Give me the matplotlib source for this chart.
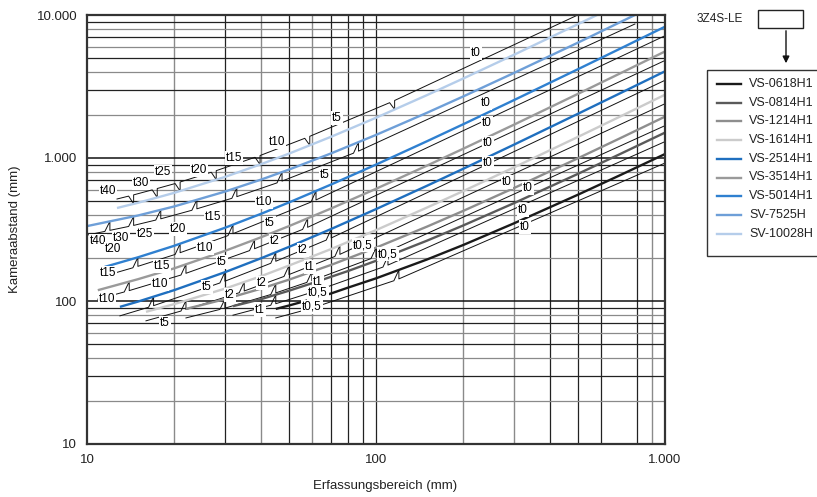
import matplotlib
matplotlib.use('Agg')
import matplotlib.pyplot as plt
import numpy as np
from matplotlib.patches import Rectangle
from matplotlib.ticker import FixedLocator, FixedFormatter, NullLocator

plt.rcParams['font.family'] = ['Liberation Sans', 'DejaVu Sans']

# ---------------- data ----------------
lens_names = ['VS-0618H1', 'VS-0814H1', 'VS-1214H1', 'VS-1614H1', 'VS-2514H1',
              'VS-3514H1', 'VS-5014H1', 'SV-7525H', 'SV-10028H']
lens_colors = ['#1a1a1a', '#5a5a5a', '#8e8e8e', '#cbcbcb', '#1f6fbf',
               '#9a9a9a', '#2f80d0', '#6e9fd8', '#b5cdea']

x_0618 = [45, 50, 60, 70, 80, 100, 150, 200, 300, 500, 700, 1000]
y_0618 = [88, 93, 103, 113, 124, 144, 195, 246, 349, 554, 759, 1066]
x_0814 = [32, 40, 50, 60, 80, 100, 150, 200, 300, 500, 700, 1000]
y_0814 = [92, 103, 118, 133, 162, 191, 264, 337, 483, 775, 1067, 1505]
x_1214 = [22, 30, 40, 50, 70, 100, 150, 200, 300, 500, 700, 1000]
y_1214 = [88, 103, 122, 141, 179, 236, 331, 426, 616, 996, 1376, 1946]
x_1614 = [16, 20, 30, 40, 50, 70, 100, 150, 200, 300, 500, 700, 1000]
y_1614 = [84, 95, 122, 149, 177, 231, 313, 450, 586, 859, 1405, 1951, 2770]
x_2514 = [13, 15, 20, 30, 40, 50, 70, 100, 150, 200, 300, 500, 700, 1000]
y_2514 = [91, 99, 119, 159, 199, 239, 319, 439, 639, 839, 1239, 2039, 2839, 4039]
x_3514 = [10.9, 15, 20, 30, 40, 50, 70, 100, 150, 200, 300, 500, 700, 1000]
y_3514 = [119, 142, 169, 224, 279, 334, 444, 609, 884, 1159, 1709, 2809, 3909, 5559]
x_5014 = [11.5, 15, 20, 30, 40, 50, 70, 100, 150, 200, 300, 500, 700, 1000]
y_5014 = [173, 202, 243, 325, 407, 489, 653, 899, 1309, 1719, 2539, 4179, 5819, 8279]
x_7525 = [10, 15, 20, 30, 40, 50, 70, 100, 150, 200, 300, 500, 787]
y_7525 = [334, 396, 458, 582, 706, 830, 1078, 1450, 2070, 2690, 3930, 6410, 10000]
x_10028 = [12.7, 15, 20, 30, 40, 50, 70, 100, 150, 200, 300, 582]
y_10028 = [447, 486, 570, 737, 905, 1073, 1409, 1912, 2751, 3590, 5268, 10000]

series_x = [x_0618, x_0814, x_1214, x_1614, x_2514, x_3514, x_5014, x_7525, x_10028]
series_y = [y_0618, y_0814, y_1214, y_1614, y_2514, y_3514, y_5014, y_7525, y_10028]

# extension-tube range boundaries (field of view, mm) for each lens
tube_bounds = [
    [60, 120],
    [45, 62, 110],
    [30, 45, 60, 100],
    [22, 35, 50, 75],
    [17, 30, 45, 70],
    [14, 22, 38, 58],
    [15, 21, 32, 62],
    [12, 14.5, 18, 24, 33, 47.3, 87],
    [14.5, 17.5, 21, 28, 39.7, 59, 116],
]
bracket_side = [-1, -1, -1, -1, -1, -1, -1, -1, 1]

# extension tube labels (text, x, y in data units)
tube_text = ['t40', 't30', 't25', 't20', 't15', 't10', 't5', 't0',
             't40', 't30', 't25', 't20', 't15', 't10', 't5', 't0',
             't20', 't15', 't10', 't5', 't0',
             't15', 't10', 't5', 't2', 't0',
             't10', 't5', 't2', 't0,5', 't0',
             't5', 't2', 't1', 't2', 't1', 't1', 't0,5', 't0,5', 't0,5',
             't0', 't0', 't0', 't0']
tube_x = [11.8, 15.4, 18.3, 24.4, 32.3, 45.4, 73.3, 222,
          10.9, 13.1, 15.9, 20.6, 27.3, 41.0, 66.6, 240,
          12.3, 18.2, 25.6, 43.0, 242,
          11.8, 17.9, 29.3, 44.7, 244,
          11.7, 26.0, 40.3, 90.2, 244,
          18.6, 31.2, 39.7, 55.9, 59.1, 63.0, 63.0, 60.0, 110,
          284, 336, 323, 328]
tube_y = [588, 668, 798, 824, 1000, 1294, 1905, 5400,
          263, 276, 294, 319, 387, 492, 761, 2426,
          231, 176, 235, 351, 1758,
          157, 131.5, 187, 263, 1273,
          103, 125, 134, 246, 922,
          70.2, 110, 86.5, 227, 173, 136, 114, 90.8, 213,
          679, 617, 433, 329]

x_ticks = [10, 100, 1000]
x_ticklabels = ['10', '100', '1.000']
y_ticks = [10, 100, 1000, 10000]
y_ticklabels = ['10', '100', '1.000', '10.000']

# ---------------- figure ----------------
W, H = 817, 497
fig = plt.figure(figsize=(W / 100, H / 100), dpi=100)
ax = fig.add_axes([87 / W, 1 - 444 / H, 578 / W, 429 / H])
ax.set_xscale('log')
ax.set_yscale('log')
ax.set_xlim(10, 1000)
ax.set_ylim(10, 10000)

# grid
xgrid_dark = [30, 50, 70, 80, 90, 100, 400, 500, 600, 800]
xgrid_gray = [20, 40, 60, 200, 300, 900]
for v in xgrid_dark:
    ax.axvline(v, color='#222222', lw=0.9, zorder=1)
for v in xgrid_gray:
    ax.axvline(v, color='#8a8a8a', lw=1.0, zorder=1)
for dec in [10, 100, 1000]:
    for m in range(2, 10):
        c = '#8a8a8a' if m in (2, 4, 6, 8) else '#222222'
        ax.axhline(dec * m, color=c, lw=0.9, zorder=1)
    if dec > 10:
        ax.axhline(dec, color='#111111', lw=1.1, zorder=1)

# thin bracket lines marking the tube ranges
OFF = 9.0 / 143.0   # offset of the bracket line (decades)
NOTCH = 5.0 / 289.0
for xs, ys, bnds, side in zip(series_x, series_y, tube_bounds, bracket_side):
    lx, ly = np.log10(xs), np.log10(ys)
    f = lambda v: np.interp(v, lx, ly)
    edges = [lx[0]] + [np.log10(b) for b in bnds] + [lx[-1]]
    px, py = [], []
    for i in range(len(edges) - 1):
        a, b = edges[i], edges[i + 1]
        px += [a, a]
        py += [f(a), f(a) + side * OFF] if i > 0 else [f(a) + side * OFF, f(a) + side * OFF]
        if i < len(edges) - 2:
            px += [b - NOTCH, b]
            py += [f(b - NOTCH) + side * OFF, f(b)]
        else:
            px += [b]
            py += [f(b) + side * OFF]
    ax.plot(10 ** np.array(px), 10 ** np.array(py), color='#111111', lw=0.7, zorder=2)

for xs, ys, c in zip(series_x, series_y, lens_colors):
    ax.plot(xs, ys, color=c, lw=1.7, zorder=3, solid_capstyle='butt')

for t, tx, ty in zip(tube_text, tube_x, tube_y):
    ax.text(tx, ty, t, fontsize=8.5, ha='center', va='center', zorder=6,
            bbox=dict(facecolor='white', edgecolor='none', pad=0.6))

ax.xaxis.set_major_locator(FixedLocator(x_ticks))
ax.xaxis.set_major_formatter(FixedFormatter(x_ticklabels))
ax.yaxis.set_major_locator(FixedLocator(y_ticks))
ax.yaxis.set_major_formatter(FixedFormatter(y_ticklabels))
ax.xaxis.set_minor_locator(NullLocator())
ax.yaxis.set_minor_locator(NullLocator())
ax.tick_params(length=0, labelsize=9.5, colors='#222222', pad=7)
for s in ax.spines.values():
    s.set_linewidth(1.6)
    s.set_color('#333333')
    s.set_zorder(7)
ax.set_xlabel('Erfassungsbereich (mm)', fontsize=9.5, color='#222222')
ax.xaxis.set_label_coords((385 - 87) / 578, -(480 - 444) / 429)
ax.set_ylabel('Kameraabstand (mm)', fontsize=9.5, color='#222222')
ax.yaxis.set_label_coords((21 - 87) / 578, 0.5)

# legend panel in pixel coordinates
lg = fig.add_axes([0, 0, 1, 1], facecolor='none')
lg.set_xlim(0, W)
lg.set_ylim(H, 0)
lg.axis('off')
lg.text(697, 19, '3Z4S-LE', fontsize=8.5, ha='left', va='center', color='#222222')
lg.add_patch(Rectangle((758, 10), 45, 18, fill=False, ec='#222222', lw=1.0))
lg.annotate('', xy=(786, 66), xytext=(786, 28),
            arrowprops=dict(arrowstyle='-|>', color='#111111', lw=1.0, mutation_scale=10))
lg.add_patch(Rectangle((707, 70), 130, 186, fill=False, ec='#333333', lw=1.0))
for i, (name, c) in enumerate(zip(lens_names, lens_colors)):
    yy = 84 + i * 18.7
    lg.plot([717, 741], [yy, yy], color=c, lw=1.7)
    lg.text(749, yy, name, fontsize=9, ha='left', va='center', color='#222222')

fig.savefig('out.png', dpi=100)
